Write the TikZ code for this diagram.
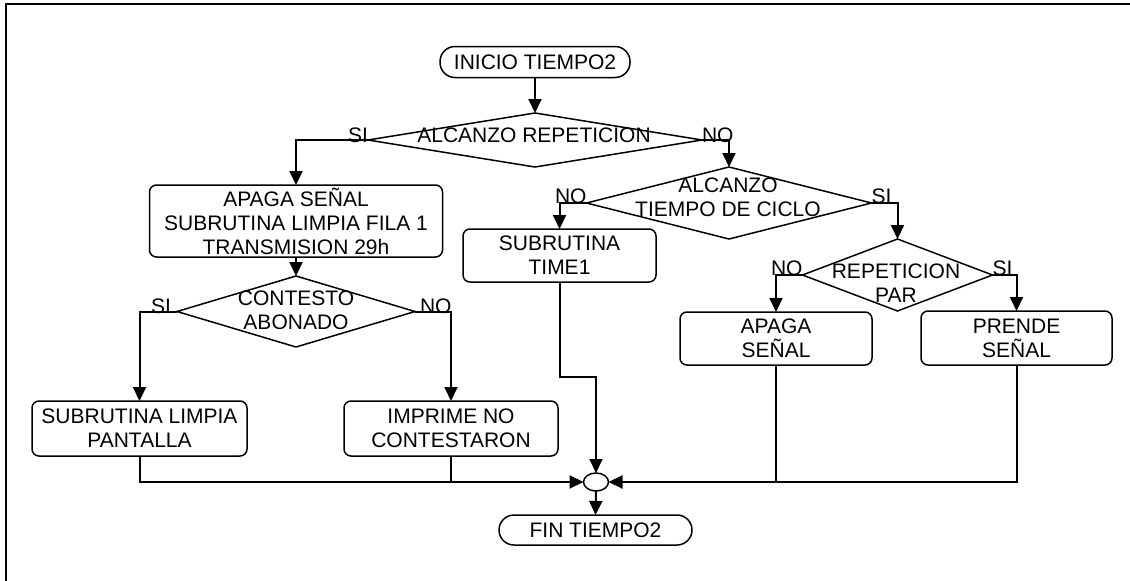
\documentclass[tikz,border=0pt]{standalone}
\usepackage{fontspec}
\setmainfont{Liberation Sans}
\usetikzlibrary{arrows.meta,shapes.geometric}
\begin{document}
\begin{tikzpicture}[x=1pt,y=-1pt,
  every node/.style={font=\fontsize{21}{24}\selectfont, inner sep=0pt, outer sep=0pt},
  procbox/.style={draw, line width=1.5pt, rounded corners=7pt, align=center},
  decbox/.style={draw, shape=diamond, line width=1.5pt},
  termbox/.style={draw, line width=1.5pt, rounded corners=15pt},
  dectext/.style={align=center},
  conn/.style={line width=2pt},
  arr/.style={conn, -{Triangle[length=14pt,width=13pt]}},
]
\useasboundingbox (0,0) rectangle (1130,581);
\draw[line width=2.5pt] (1130,4) -- (6,4) -- (6,581);

\node[termbox, minimum width=190pt, minimum height=31pt] (start) at (535,62) {INICIO TIEMPO2};
\node[decbox, minimum width=334pt, minimum height=54pt] (d1) at (535,140) {};
\node (t1) at (534,135.5) {ALCANZO REPETICION};
\node[procbox, minimum width=293pt, minimum height=72pt] (b1) at (296,221) {APAGA SEÑAL\\SUBRUTINA LIMPIA FILA 1\\TRANSMISION 29h};
\node[decbox, minimum width=238pt, minimum height=71pt] (d3) at (296,311.5) {};
\node[dectext] (t3) at (296,310.5) {CONTESTO\\ABONADO};
\node[procbox, minimum width=215pt, minimum height=55pt] (b4) at (139.5,428.5) {SUBRUTINA LIMPIA\\PANTALLA};
\node[procbox, minimum width=214pt, minimum height=55pt] (b5) at (451,428.5) {IMPRIME NO\\CONTESTARON};
\node[decbox, minimum width=285pt, minimum height=72pt] (d2) at (729,203) {};
\node[dectext] (t2) at (728,197) {ALCANZO\\TIEMPO DE CICLO};
\node[procbox, minimum width=193pt, minimum height=53pt] (b2) at (559.5,255.5) {SUBRUTINA\\TIME1};
\node[decbox, minimum width=190pt, minimum height=72pt] (d4) at (897.5,275) {};
\node[dectext] (t4) at (896,283.5) {REPETICION\\PAR};
\node[procbox, minimum width=192pt, minimum height=53pt] (b6) at (776,338.5) {APAGA\\SEÑAL};
\node[procbox, minimum width=191pt, minimum height=54pt] (b7) at (1016.5,338) {PRENDE\\SEÑAL};
\node[draw, shape=ellipse, line width=1.5pt, minimum width=25pt, minimum height=18pt] (m) at (596,482) {};
\node[termbox, minimum width=193pt, minimum height=30pt] (end) at (595.5,530) {FIN TIEMPO2};
\coordinate (j2) at (596,377);

\node[anchor=base east] (l1) at ([yshift=-2.5pt]d1.west) {SI};
\node[anchor=base west] (l2) at ([yshift=-2.5pt]d1.east) {NO};
\node[anchor=base east] (l3) at ([yshift=-0.5pt]d2.west) {NO};
\node[anchor=base west] (l4) at ([yshift=-0.5pt]d2.east) {SI};
\node[anchor=base east] (l5) at ([xshift=-6pt,yshift=-2pt]d3.west) {SI};
\node[anchor=base west] (l6) at ([xshift=5pt,yshift=-2pt]d3.east) {NO};
\node[anchor=base east] (l7) at (d4.west) {NO};
\node[anchor=base west] (l8) at (d4.east) {SI};

\draw[arr] (start.south) -- (d1.north);
\draw[arr] (d1.west) -| (b1.north);
\draw[arr] (d1.east) -| (d2.north);
\draw[arr] (b1.south) -- (d3.north);
\draw[arr] (d3.west) -| (b4.north);
\draw[arr] (d3.east) -| (b5.north);
\draw[arr] (d2.west) -| (b2.north);
\draw[arr] (d2.east) -| (d4.north);
\draw[arr] (d4.west) -| (b6.north);
\draw[arr] (d4.east) -| (b7.north);
\draw[arr] (b4.south) |- (m.west);
\draw[conn] (b5.south) |- ([xshift=-14pt]m.west);
\draw[arr] (b2.south) |- (j2) -- (m.north);
\draw[conn] (b6.south) |- ([xshift=14pt]m.east);
\draw[arr] (b7.south) |- (m.east);
\draw[arr] (m.south) -- (end.north);
\end{tikzpicture}
\end{document}
